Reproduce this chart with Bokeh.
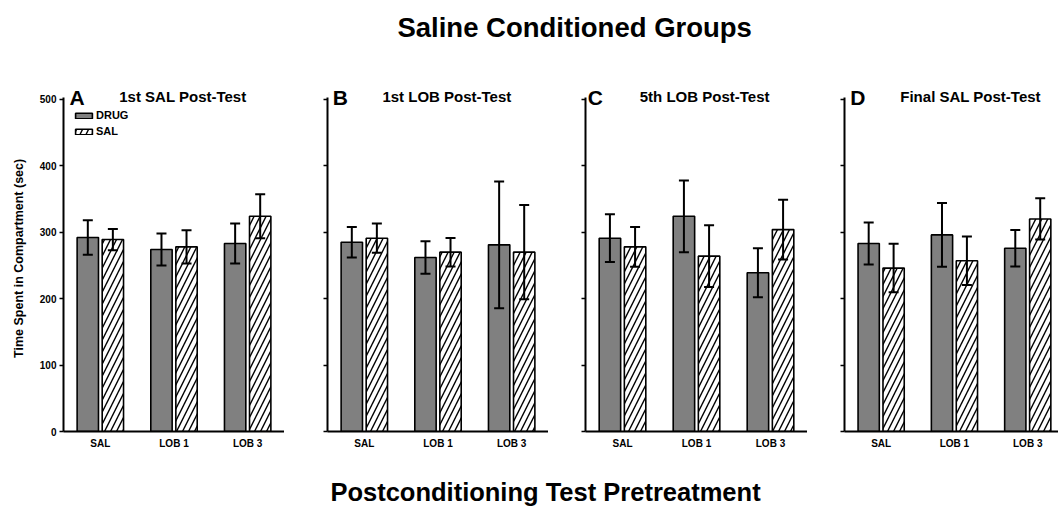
import math
from bokeh.plotting import figure
from bokeh.layouts import column, row
from bokeh.models import (Range1d, FixedTicker, Whisker, TeeHead, Label, Legend,
                          LegendItem, ColumnDataSource)
from bokeh.transform import dodge
from bokeh.embed import file_html
from bokeh.resources import INLINE

# ---------------- data ----------------
categories = ["SAL", "LOB 1", "LOB 3"]
cat_pos = [1, 2, 3]
letters = ["A", "B", "C", "D"]
panel_titles = ["1st SAL Post-Test", "1st LOB Post-Test", "5th LOB Post-Test", "Final SAL Post-Test"]
series_names = ["DRUG", "SAL"]
yticks = [0, 100, 200, 300, 400, 500]

drug_mean = [[292, 274, 283], [285, 262, 281], [291, 324, 239], [283, 296, 276]]
drug_sem = [[26, 24, 30], [23, 24.5, 95.5], [36, 54, 37], [31.5, 48, 27.5]]
sal_mean = [[289, 278, 324], [291, 270, 270], [278, 264, 304], [246, 257, 320]]
sal_sem = [[16, 25, 33], [22, 21.5, 71], [30, 46.5, 45], [36.5, 36.5, 31]]

main_title = "Saline Conditioned  Groups"
x_title = "Postconditioning Test Pretreatment"
y_title = "Time Spent in Compartment  (sec)"

FONT = "Liberation Sans"
INK = "black"

# ---------------- layout constants ----------------
YLAB_W = 30
left_borders = [63 - YLAB_W, 43, 37, 37]
frame_widths = [221, 221, 222, 214]
x_ends = [3.5, 3.5, 3.5, 0.5 + 214 / 73.3]
letter_x = [0.58, 0.57, 0.53, 0.58]
title_x = [2.12, 2.12, 2.11, 2.22]
OFF = 0.17
BW = 0.29
Y_TOP = 545          # room above the 500 tick for the panel headings
FRAME_H = 362
BORDER_TOP = 1
BORDER_BOTTOM = 20
PANEL_H = BORDER_TOP + FRAME_H + BORDER_BOTTOM

panels = []
for i in range(4):
    p = figure(frame_width=frame_widths[i], frame_height=FRAME_H,
               x_range=Range1d(0.5, x_ends[i]), y_range=Range1d(0, Y_TOP),
               min_border_left=left_borders[i], min_border_right=0,
               min_border_top=BORDER_TOP, min_border_bottom=BORDER_BOTTOM,
               output_backend="svg", toolbar_location=None)
    p.outline_line_color = None
    p.grid.visible = False
    p.background_fill_color = "white"

    src = ColumnDataSource(dict(
        x=cat_pos,
        drug=drug_mean[i], drug_lo=[m - e for m, e in zip(drug_mean[i], drug_sem[i])],
        drug_hi=[m + e for m, e in zip(drug_mean[i], drug_sem[i])],
        sal=sal_mean[i], sal_lo=[m - e for m, e in zip(sal_mean[i], sal_sem[i])],
        sal_hi=[m + e for m, e in zip(sal_mean[i], sal_sem[i])],
    ))
    xd = dodge("x", -OFF, range=p.x_range)
    xs = dodge("x", OFF, range=p.x_range)
    r_drug = p.vbar(x=xd, top="drug", width=BW, source=src,
                    fill_color="#808080", line_color=INK, line_width=1.6)
    r_sal = p.vbar(x=xs, top="sal", width=BW, source=src,
                   fill_color="white", line_color=INK, line_width=1.6,
                   hatch_pattern="/", hatch_color=INK, hatch_weight=1.4, hatch_scale=12)

    for base, lo, hi in ((xd, "drug_lo", "drug_hi"), (xs, "sal_lo", "sal_hi")):
        w = Whisker(base=base, lower=lo, upper=hi, source=src, dimension="height",
                    line_color=INK, line_width=2, level="annotation",
                    upper_head=TeeHead(size=10, line_width=2, line_color=INK),
                    lower_head=TeeHead(size=10, line_width=2, line_color=INK))
        p.add_layout(w)

    # axes
    p.xaxis.ticker = FixedTicker(ticks=cat_pos)
    p.xaxis.major_label_overrides = {k: v for k, v in zip(cat_pos, categories)}
    p.xaxis.major_tick_line_color = None
    p.xaxis.major_tick_out = 0
    p.xaxis.major_tick_in = 0
    p.xaxis.minor_tick_line_color = None
    p.xaxis.major_label_standoff = 6
    p.xaxis.major_label_text_font = FONT
    p.xaxis.major_label_text_font_style = "bold"
    p.xaxis.major_label_text_font_size = "10px"
    p.xaxis.major_label_text_color = INK
    p.xaxis.axis_line_width = 2
    p.xaxis.axis_line_color = INK

    p.yaxis.ticker = FixedTicker(ticks=yticks)
    p.yaxis.bounds = (yticks[0], yticks[-1] + 3)
    p.yaxis.minor_tick_line_color = None
    p.yaxis.major_tick_out = 4
    p.yaxis.major_tick_in = 0
    p.yaxis.major_tick_line_width = 1.5
    p.yaxis.major_tick_line_color = INK
    p.yaxis.axis_line_width = 2
    p.yaxis.axis_line_color = INK
    p.yaxis.major_label_text_font = FONT
    p.yaxis.major_label_text_font_style = "bold"
    p.yaxis.major_label_text_font_size = "10px"
    p.yaxis.major_label_standoff = 3
    if i == 0:
        p.yaxis.major_label_text_color = INK
    else:
        p.yaxis.major_label_text_color = None

    p.add_layout(Label(x=letter_x[i], y=503, text=letters[i], text_font=FONT,
                       text_font_style="bold", text_font_size="21px", text_color=INK,
                       text_baseline="alphabetic", text_align="left"))
    p.add_layout(Label(x=title_x[i], y=505, text=panel_titles[i], text_font=FONT,
                       text_font_style="bold", text_font_size="15px", text_color=INK,
                       text_baseline="alphabetic", text_align="center"))

    if i == 0:
        leg = Legend(items=[LegendItem(label=series_names[0], renderers=[r_drug]),
                            LegendItem(label=series_names[1], renderers=[r_sal])],
                     location=(10, 293), padding=3, spacing=2,
                     glyph_width=21, glyph_height=7, label_height=14,
                     label_standoff=2, label_text_font=FONT, label_text_color=INK,
                     label_text_font_style="bold", label_text_font_size="11px",
                     background_fill_alpha=0, border_line_color=None)
        p.add_layout(leg)
    panels.append(p)


def blank_fig(w, h):
    f = figure(width=w, height=h, x_range=Range1d(0, w), y_range=Range1d(0, h),
               min_border=0, x_axis_location=None, y_axis_location=None,
               output_backend="svg", toolbar_location=None)
    f.outline_line_color = None
    f.grid.visible = False
    return f


total_w = YLAB_W + sum(left_borders) + sum(frame_widths)

# y-axis title in its own narrow strip, centred on the 0-500 axis
ylab = blank_fig(YLAB_W, PANEL_H)
ylab.add_layout(Label(x=18, y=PANEL_H - (266 - 68), text=y_title, text_font=FONT,
                      text_font_style="bold", text_font_size="12.5px", text_color=INK,
                      angle=math.pi / 2, text_align="center", text_baseline="middle"))

top = blank_fig(total_w, 68)
top.add_layout(Label(x=578, y=68 - 27, text=main_title, text_font=FONT, text_font_style="bold",
                     text_font_size="27.5px", text_color=INK,
                     text_align="center", text_baseline="middle"))
bottom = blank_fig(total_w, 55)
bottom.add_layout(Label(x=545, y=55 - 40, text=x_title, text_font=FONT, text_font_style="bold",
                        text_font_size="25.5px", text_color=INK,
                        text_align="center", text_baseline="middle"))

layout = column(top, row(ylab, *panels, spacing=0), bottom, spacing=0)
open("out.html", "w").write(file_html(layout, INLINE))
